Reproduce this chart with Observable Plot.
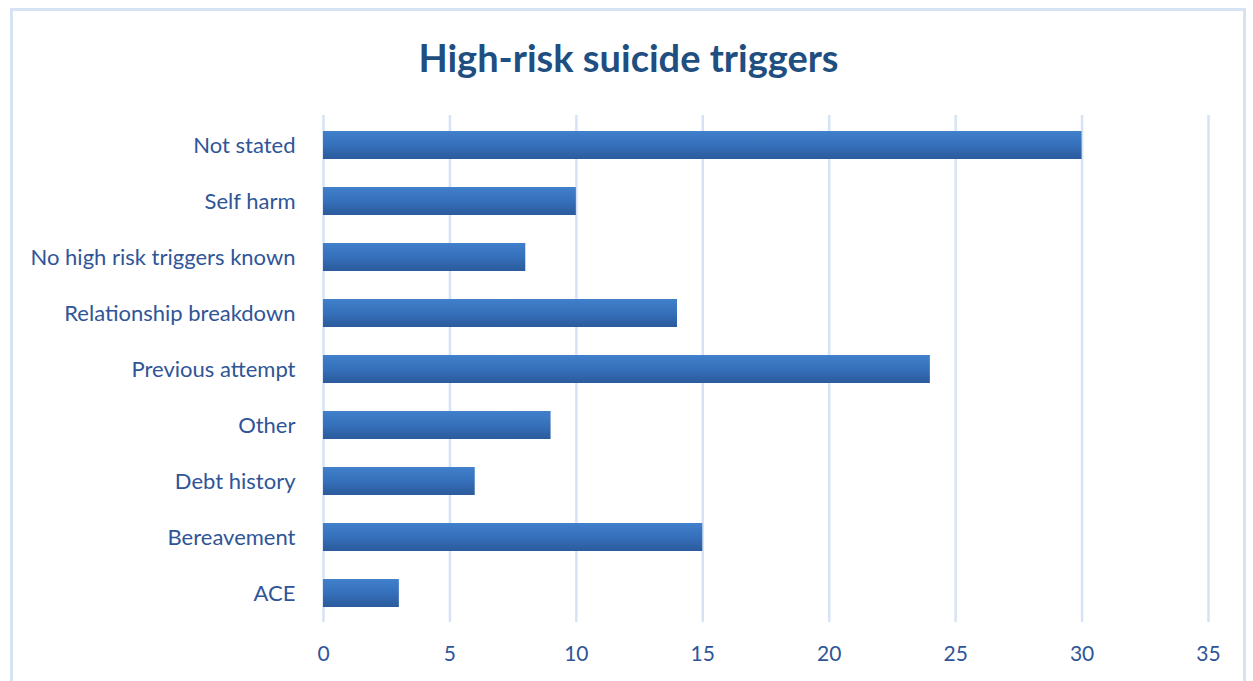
<!DOCTYPE html>
<html>
<head>
<meta charset="utf-8">
<script src="https://cdn.jsdelivr.net/npm/d3@7"></script>
<script src="https://cdn.jsdelivr.net/npm/@observablehq/plot@0.6"></script>
<style>
  html, body { margin: 0; padding: 0; background: #fff; }
  #wrap { position: relative; width: 1253px; height: 681px; overflow: hidden; font-family: Lato, "Open Sans", sans-serif; }
  #frame { position: absolute; left: 10px; top: 8px; width: 1236px; height: 700px; border: 3px solid #D6E3F4; border-bottom: none; box-sizing: border-box; }
  #title { position: absolute; left: 0; top: 0; width: 1253px; height: 100px; text-align: center; line-height: 114px; font-size: 38px; font-weight: bold; color: #1F4E80; padding-left: 4px; box-sizing: border-box; }
  #chart { position: absolute; left: 0; top: 100px; }
</style>
</head>
<body>
<div id="wrap">
  <div id="frame"></div>
  <div id="title">High-risk suicide triggers</div>
  <div id="chart"></div>
</div>
<script>
const categories = ["Not stated", "Self harm", "No high risk triggers known", "Relationship breakdown", "Previous attempt", "Other", "Debt history", "Bereavement", "ACE"];
const values = [30, 10, 8, 14, 24, 9, 6, 15, 3];
const xTicks = [0, 5, 10, 15, 20, 25, 30, 35];

const data = categories.map((c, i) => ({category: c, value: values[i]}));

const plot = Plot.plot({
  width: 1253,
  height: 581,
  marginTop: 15,
  marginBottom: 59,
  marginLeft: 323,
  marginRight: 45,
  style: {fontFamily: "Lato, 'Open Sans', sans-serif", fontSize: "22px", color: "#2F5597", background: "transparent", overflow: "visible"},
  x: {domain: [0, 35], ticks: xTicks, tickSize: 0, tickPadding: 24, label: null},
  y: {domain: categories, paddingInner: 0.5, paddingOuter: 0.25, tickSize: 0, tickPadding: 28, label: null},
  marks: [
    Plot.ruleX(xTicks, {stroke: "#D6E3F4", strokeWidth: 2.5, strokeOpacity: 1}),
    Plot.barX(data, {x: "value", y: "category", fill: "url(#barGrad)", style: "filter: drop-shadow(2px 3px 2px rgba(0,0,0,0.3))"}),
    Plot.axisX({ticks: xTicks, tickSize: 0, tickPadding: 24, fill: "#2F5597", fontSize: 21}),
    Plot.axisY({tickSize: 0, tickPadding: 28, fill: "#2F5597", fontSize: 22})
  ]
});

const ns = "http://www.w3.org/2000/svg";
const defs = document.createElementNS(ns, "defs");
defs.innerHTML = `<linearGradient id="barGrad" x1="0" y1="0" x2="0" y2="1">
  <stop offset="0" stop-color="#4180CC"/>
  <stop offset="0.5" stop-color="#3670BA"/>
  <stop offset="1" stop-color="#2A5B9C"/>
</linearGradient>`;
plot.insertBefore(defs, plot.firstChild);
plot.querySelectorAll("text").forEach(t => t.setAttribute("fill", "#2F5597"));
document.getElementById("chart").appendChild(plot);
</script>
</body>
</html>
